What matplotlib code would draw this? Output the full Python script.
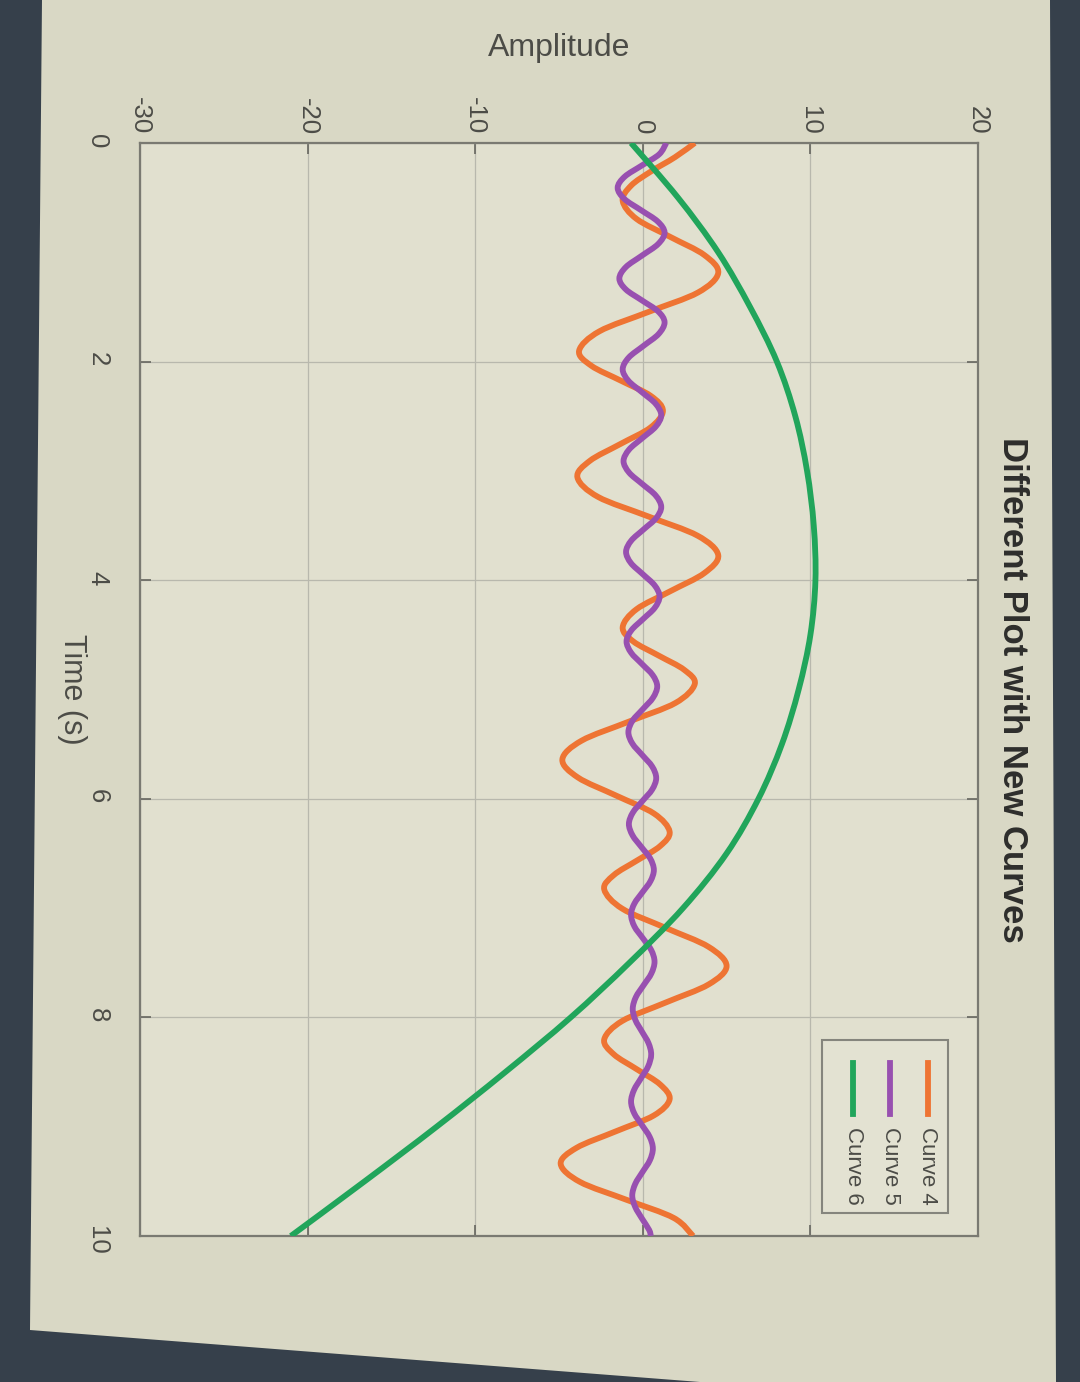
import matplotlib.pyplot as plt
from matplotlib.patches import Polygon, Rectangle, PathPatch
from matplotlib.path import Path
from matplotlib.lines import Line2D

# values (time in s, amplitude)
time_c4 = [0.00, 0.13, 0.26, 0.39, 0.53, 0.695, 0.86, 1.025, 1.19, 1.368, 1.545, 1.723,
           1.90, 2.038, 2.175, 2.313, 2.45, 2.603, 2.755, 2.908, 3.06, 3.238, 3.415, 3.593,
           3.77, 3.935, 4.10, 4.265, 4.43, 4.56, 4.69, 4.82, 4.95, 5.123, 5.295, 5.468,
           5.64, 5.805, 5.97, 6.135, 6.30, 6.433, 6.565, 6.698, 6.83, 7.005, 7.18, 7.355,
           7.53, 7.698, 7.865, 8.033, 8.20, 8.338, 8.475, 8.613, 8.75, 8.898, 9.045, 9.193,
           9.34, 9.505, 9.67, 9.835, 10.0]
curve4 = [3.10, 1.92, 0.49, -0.70, -1.20, -0.37, 1.65, 3.67, 4.50, 3.29, 0.35, -2.59,
          -3.80, -3.07, -1.30, 0.47, 1.20, 0.46, -1.35, -3.16, -3.90, -2.67, 0.30, 3.27,
          4.50, 3.67, 1.65, -0.37, -1.20, -0.57, 0.95, 2.47, 3.10, 1.95, -0.85, -3.65,
          -4.80, -3.87, -1.60, 0.67, 1.60, 1.03, -0.35, -1.73, -2.30, -1.23, 1.35, 3.93,
          5.00, 3.93, 1.35, -1.23, -2.30, -1.73, -0.35, 1.03, 1.60, 0.65, -1.65, -3.95,
          -4.90, -3.75, -0.95, 1.85, 3.00]

time_c5 = [0.000, 0.103, 0.205, 0.308, 0.410, 0.513, 0.615, 0.718, 0.820, 0.925, 1.030, 1.135,
           1.240, 1.340, 1.440, 1.540, 1.640, 1.748, 1.855, 1.963, 2.070, 2.175, 2.280, 2.385,
           2.490, 2.595, 2.700, 2.805, 2.910, 3.015, 3.120, 3.225, 3.330, 3.433, 3.535, 3.638,
           3.740, 3.843, 3.945, 4.048, 4.150, 4.253, 4.355, 4.458, 4.560, 4.663, 4.765, 4.868,
           4.970, 5.075, 5.180, 5.285, 5.390, 5.495, 5.600, 5.705, 5.810, 5.915, 6.020, 6.125,
           6.230, 6.335, 6.440, 6.545, 6.650, 6.753, 6.855, 6.958, 7.060, 7.168, 7.275, 7.383,
           7.490, 7.598, 7.705, 7.813, 7.920, 8.025, 8.130, 8.235, 8.340, 8.448, 8.555, 8.663,
           8.770, 8.878, 8.985, 9.093, 9.200, 9.308, 9.415, 9.523, 9.630, 9.735, 9.840, 9.945,
           10.000]
curve5 = [1.40, 0.98, -0.05, -1.08, -1.50, -1.09, -0.10, 0.89, 1.30, 0.91, -0.05, -1.01,
          -1.40, -1.01, -0.05, 0.91, 1.30, 0.94, 0.05, -0.84, -1.20, -0.86, -0.05, 0.76,
          1.10, 0.77, -0.03, -0.82, -1.15, -0.82, -0.03, 0.77, 1.10, 0.79, 0.05, -0.69,
          -1.00, -0.71, 0.00, 0.71, 1.00, 0.71, 0.02, -0.68, -0.97, -0.70, -0.06, 0.59,
          0.86, 0.61, 0.00, -0.61, -0.86, -0.62, -0.03, 0.56, 0.80, 0.56, -0.02, -0.59,
          -0.83, -0.61, -0.09, 0.44, 0.66, 0.46, -0.02, -0.50, -0.70, -0.50, 0.00, 0.50,
          0.70, 0.51, 0.05, -0.41, -0.60, -0.44, -0.05, 0.34, 0.50, 0.32, -0.10, -0.52,
          -0.70, -0.51, -0.05, 0.41, 0.60, 0.42, -0.02, -0.45, -0.63, -0.45, -0.05, 0.38,
          0.48]

time_c6 = [0, 0.5, 1, 1.5, 2, 2.5, 3, 3.5, 4, 4.5, 5, 5.5, 6, 6.5, 7, 7.5, 8, 8.5, 9, 9.5, 10]
curve6 = [-0.7, 2.1, 4.5, 6.4, 8.0, 9.1, 9.8, 10.2, 10.3, 10.0, 9.3, 8.3, 6.9, 5.0, 2.4,
          -0.8, -4.3, -8.2, -12.3, -16.6, -21.0]

labels = ["Curve 4", "Curve 5", "Curve 6"]
colors = ["#ee7433", "#9850b0", "#21a55b"]
amp_ticks = [-30, -20, -10, 0, 10, 20]
time_ticks = [0, 2, 4, 6, 8, 10]


def smooth_path(xs, ys):
    # Catmull-Rom through the read points, drawn as cubic Bezier segments
    pts = list(zip(xs, ys))
    verts = [pts[0]]
    codes = [Path.MOVETO]
    n = len(pts)
    for i in range(n - 1):
        p0 = pts[max(i - 1, 0)]
        p1 = pts[i]
        p2 = pts[i + 1]
        p3 = pts[min(i + 2, n - 1)]
        c1 = (p1[0] + (p2[0] - p0[0]) / 6, p1[1] + (p2[1] - p0[1]) / 6)
        c2 = (p2[0] - (p3[0] - p1[0]) / 6, p2[1] - (p3[1] - p1[1]) / 6)
        verts += [c1, c2, p2]
        codes += [Path.CURVE4] * 3
    return Path(verts, codes)


plt.rcParams['font.family'] = ['Liberation Sans', 'DejaVu Sans']
plt.rcParams['axes.unicode_minus'] = False

W, H = 1080, 1382
fig = plt.figure(figsize=(W / 100, H / 100), dpi=100)
fig.patch.set_facecolor('#36404b')

# lit screen area of the photo
screen_px = [(42, 0), (1050, 0), (1056, 1382), (700, 1382), (30, 1330)]
fig.patches.append(Polygon([(x / W, 1 - y / H) for x, y in screen_px], closed=True,
                           transform=fig.transFigure, facecolor='#d9d8c5',
                           edgecolor='none', zorder=-5))

# the chart is shown rotated: time runs downward, amplitude to the right
ax = fig.add_axes([140 / W, 1 - 1236 / H, 838 / W, 1093 / H])
ax.set_zorder(1)
ax.set_facecolor('#e1e0cf')

for t, v, c in zip([time_c4, time_c5, time_c6], [curve4, curve5, curve6], colors):
    ax.add_patch(PathPatch(smooth_path(v, t), facecolor='none', edgecolor=c, lw=4.2,
                           joinstyle='round', capstyle='butt', zorder=3))

ax.set_xlim(-30, 20)
ax.set_ylim(10, 0)
ax.set_xticks(amp_ticks)
ax.set_yticks(time_ticks)
ax.grid(True, color='#b8b8ad', lw=0.9)
ax.set_axisbelow(True)

ax.tick_params(axis='both', direction='in', length=8, width=1.2, color='#66665f',
               top=True, bottom=True, left=True, right=True,
               labelsize=18.5, labelcolor='#4c4c47')
ax.tick_params(axis='x', labeltop=True, labelbottom=False, pad=6)
ax.tick_params(axis='y', labelleft=True, labelright=False, pad=22)
for lbl in ax.get_xticklabels() + ax.get_yticklabels():
    lbl.set_rotation(-90)

for s in ax.spines.values():
    s.set_color('#7a7a72')
    s.set_linewidth(1.6)

ax.xaxis.set_label_position('top')
ax.set_xlabel('Amplitude', fontsize=23, color='#4c4c47', labelpad=30)
ax.set_ylabel('Time (s)', fontsize=22, color='#4c4c47', rotation=-90, labelpad=10,
              va='center')

ax.text(1.022, 0.5, 'Different Plot with New Curves', transform=ax.transAxes,
        rotation=-90, ha='left', va='center', fontsize=25, fontweight='bold',
        color='#2e2e2c')

# legend, drawn rotated like the rest
ax.add_patch(Rectangle((0.814, 0.021), 0.150, 0.158, transform=ax.transAxes,
                       facecolor='#e3e2d2', edgecolor='#85857d', lw=1.5, zorder=5))
for x, lab, c in zip([0.940, 0.895, 0.851], labels, colors):
    ax.add_line(Line2D([x, x], [0.158, 0.112], transform=ax.transAxes, color=c,
                       lw=4.2, zorder=6))
    ax.text(x, 0.100, lab, transform=ax.transAxes, rotation=-90, ha='center',
            va='top', fontsize=16, color='#4c4c47', zorder=6)

fig.savefig('out.png', dpi=100, facecolor=fig.get_facecolor())
